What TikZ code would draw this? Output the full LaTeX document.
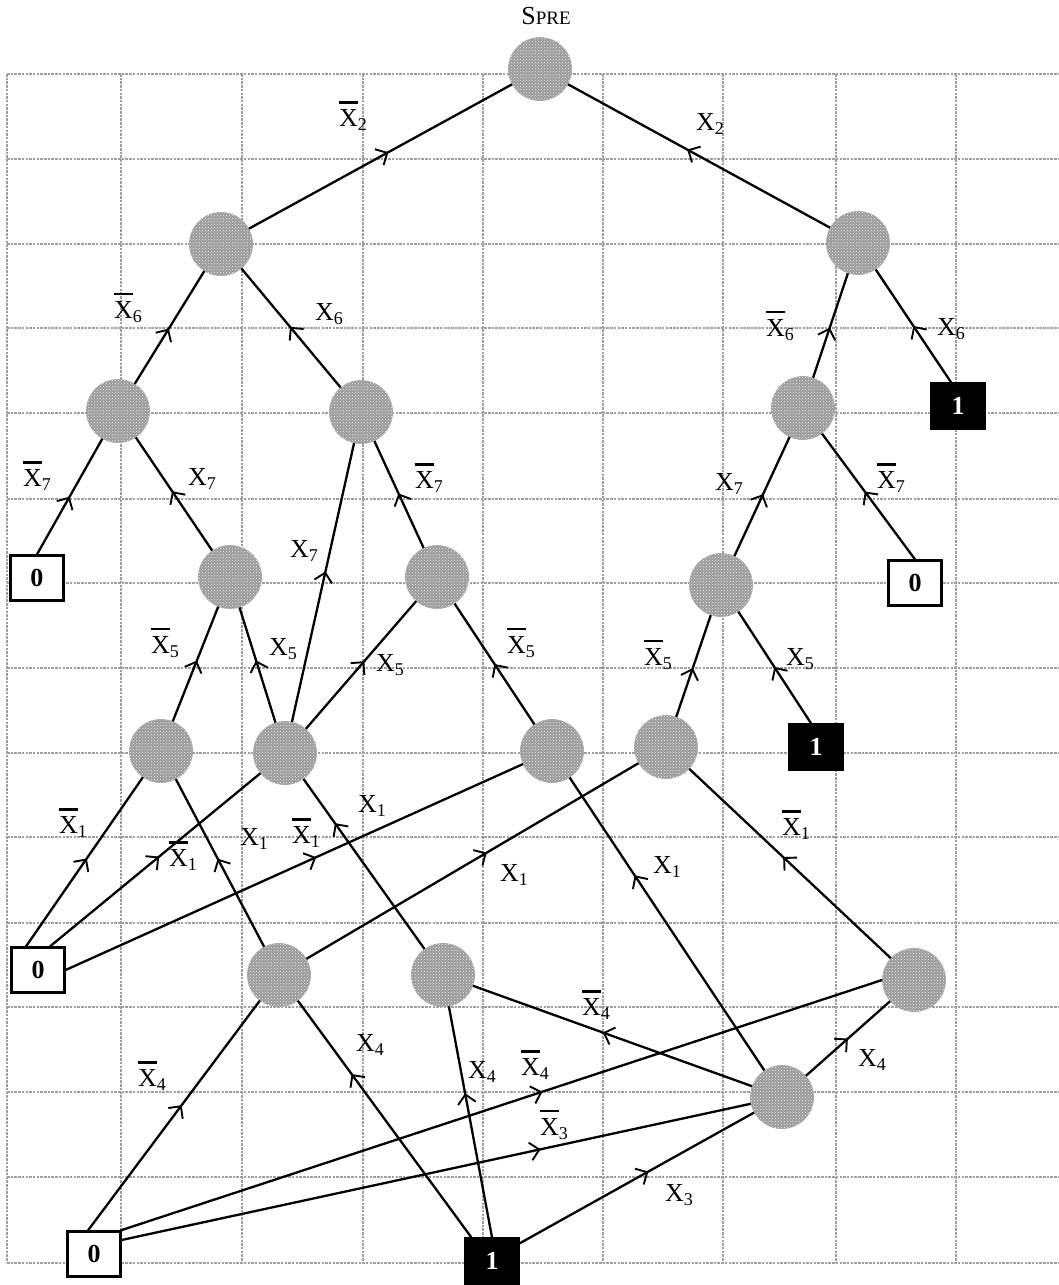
\documentclass[tikz,border=0pt]{standalone}
\usepackage{fontspec}
\setmainfont{Liberation Serif}
\usetikzlibrary{arrows.meta,decorations.markings,patterns}
\newcommand\xs[1]{X\raisebox{-4pt}{\fontsize{18}{18}\selectfont #1}}
\newcommand\xb[1]{\rlap{\smash{\rule[23pt]{18.5pt}{2.2pt}}}\xs{#1}}
\tikzset{
  gridl/.style={gray!75, line width=1.2pt, dash pattern=on 2.5pt off 1.2pt},
  st/.style={circle, minimum size=63pt, inner sep=0pt, fill=gray!80, draw=gray!70, line width=0.8pt,
    postaction={pattern=crosshatch dots, pattern color=gray!10}},
  zbox/.style={draw=black, line width=2.2pt, fill=white, minimum width=53pt, minimum height=45pt, inner sep=0pt,
    font=\bfseries\fontsize{26}{26}\selectfont},
  obox/.style={draw=black, fill=black, text=white, minimum width=55pt, minimum height=47pt, inner sep=0pt,
    font=\bfseries\fontsize{26}{26}\selectfont},
  conn/.style={line width=2.3pt, black},
  arr/.style={postaction={decorate, decoration={markings, mark=at position #1 with
    {\arrow{Straight Barb[length=9pt,width=18pt,line width=1.9pt]}}}}},
  lab/.style={inner sep=0pt, font=\fontsize{26}{26}\selectfont}
}
\begin{document}
\begin{tikzpicture}[x=1pt,y=-1pt]
\useasboundingbox (0,0) rectangle (1058,1285);
% grid
\foreach \gx in {7,121,242,363,483,603,723,836,956}
  \draw[gridl] (\gx,74) -- (\gx,1263);
\foreach \gy in {74,159,244,328,413,499,583,668,753,837,923,1007,1092,1177,1263}
  \draw[gridl] (7,\gy) -- (1058,\gy);
% nodes
\node[st] (S) at (540,69) {};
\node[inner sep=0pt, font=\fontsize{26}{26}\selectfont] (Slab) at (546,16) {S{\fontsize{19}{19}\selectfont PRE}};
\node[st] (A) at (221,244) {};
\node[st] (B) at (858,243) {};
\node[st] (C) at (118,411) {};
\node[st] (D) at (361,412) {};
\node[st] (E) at (803,408) {};
\node[obox] (T1) at (958,406) {1};
\node[zbox] (Z1) at (37,578) {0};
\node[st] (G) at (230,577) {};
\node[st] (H) at (437,577) {};
\node[st] (I) at (721,585) {};
\node[zbox] (Z2) at (915,583) {0};
\node[st] (J) at (161,751) {};
\node[st] (K) at (285,753) {};
\node[st] (L) at (552,751) {};
\node[st] (M) at (666,747) {};
\node[obox] (T2) at (816,747) {1};
\node[zbox] (Z3) at (38,970) {0};
\node[st] (N) at (279,975) {};
\node[st] (O) at (443,975) {};
\node[st] (P) at (914,980) {};
\node[st] (Q) at (782,1097) {};
\node[zbox] (Z4) at (94,1254) {0};
\node[obox] (T3) at (492,1261) {1};
% edges
\draw[conn, arr=0.53] (A) -- (S);
\draw[conn, arr=0.545] (B) -- (S);
\draw[conn, arr=0.49] (C) -- (A);
\draw[conn, arr=0.51] (D) -- (A);
\draw[conn, arr=0.48] (E) -- (B);
\draw[conn, arr=0.50] ([xshift=-7pt]T1.north) -- (B);
\draw[conn, arr=0.50] (Z1.north) -- (C);
\draw[conn, arr=0.525] (G) -- (C);
\draw[conn, arr=0.54] (K) -- (D);
\draw[conn, arr=0.51] (H) -- (D);
\draw[conn, arr=0.52] (I) -- (E);
\draw[conn, arr=0.54] (Z2.north) -- (E);
\draw[conn, arr=0.53] (J) -- (G);
\draw[conn, arr=0.54] (K) -- (G);
\draw[conn, arr=0.53] (K) -- (H);
\draw[conn, arr=0.50] (L) -- (H);
\draw[conn, arr=0.48] (M) -- (I);
\draw[conn, arr=0.505] ([xshift=-5pt]T2.north) -- (I);
\draw[conn, arr=0.52] ([xshift=-12pt]Z3.north) -- (J);
\draw[conn, arr=0.519] ([xshift=12pt]Z3.north) -- (K);
\draw[conn, arr=0.548] (Z3.east) -- (L);
\draw[conn, arr=0.543] (N) -- (M);
\draw[conn, arr=0.526] (N) -- (J);
\draw[conn, arr=0.74] (O) -- (K);
\draw[conn, arr=0.666] (Q) -- (L);
\draw[conn, arr=0.534] (P) -- (M);
\draw[conn, arr=0.545] ([xshift=-6pt]Z4.north) -- (N);
\draw[conn, arr=0.69] ([xshift=7pt]T3.north west) -- (N);
\draw[conn, arr=0.624] (T3.north) -- (O);
\draw[conn, arr=0.535] (Q) -- (O);
\draw[conn, arr=0.554] ([xshift=-1pt]Z4.north east) -- (P.west);
\draw[conn, arr=0.50] (Q) -- (P);
\draw[conn, arr=0.666] ([yshift=14pt]Z4.east) -- (Q);
\draw[conn, arr=0.549] ([yshift=-6pt]T3.north east) -- (Q);
% labels
\node[lab] (l1) at (353,120) {\xb{2}};
\node[lab] (l2) at (710,124) {\xs{2}};
\node[lab] (l3) at (128,312) {\xb{6}};
\node[lab] (l4) at (329,314) {\xs{6}};
\node[lab] (l5) at (780,330) {\xb{6}};
\node[lab] (l6) at (951,329) {\xs{6}};
\node[lab] (l7) at (37,480) {\xb{7}};
\node[lab] (l8) at (202,479) {\xs{7}};
\node[lab] (l9) at (304,551) {\xs{7}};
\node[lab] (l10) at (429,482) {\xb{7}};
\node[lab] (l11) at (729,484) {\xs{7}};
\node[lab] (l12) at (891,482) {\xb{7}};
\node[lab] (l13) at (165,647) {\xb{5}};
\node[lab] (l14) at (283,649) {\xs{5}};
\node[lab] (l15) at (390,665) {\xs{5}};
\node[lab] (l16) at (521,647) {\xb{5}};
\node[lab] (l17) at (658,659) {\xb{5}};
\node[lab] (l18) at (800,659) {\xs{5}};
\node[lab] (l19) at (73,827) {\xb{1}};
\node[lab] (l20) at (183,860) {\xb{1}};
\node[lab] (l21) at (306,837) {\xb{1}};
\node[lab] (l22) at (514,875) {\xs{1}};
\node[lab] (l23) at (254,839) {\xs{1}};
\node[lab] (l24) at (372,806) {\xs{1}};
\node[lab] (l25) at (667,867) {\xs{1}};
\node[lab] (l26) at (796,829) {\xb{1}};
\node[lab] (l27) at (152,1080) {\xb{4}};
\node[lab] (l28) at (370,1045) {\xs{4}};
\node[lab] (l29) at (482,1072) {\xs{4}};
\node[lab] (l30) at (596,1009) {\xb{4}};
\node[lab] (l31) at (535,1069) {\xb{4}};
\node[lab] (l32) at (872,1060) {\xs{4}};
\node[lab] (l33) at (554,1129) {\xb{3}};
\node[lab] (l34) at (679,1195) {\xs{3}};
\end{tikzpicture}
\end{document}
